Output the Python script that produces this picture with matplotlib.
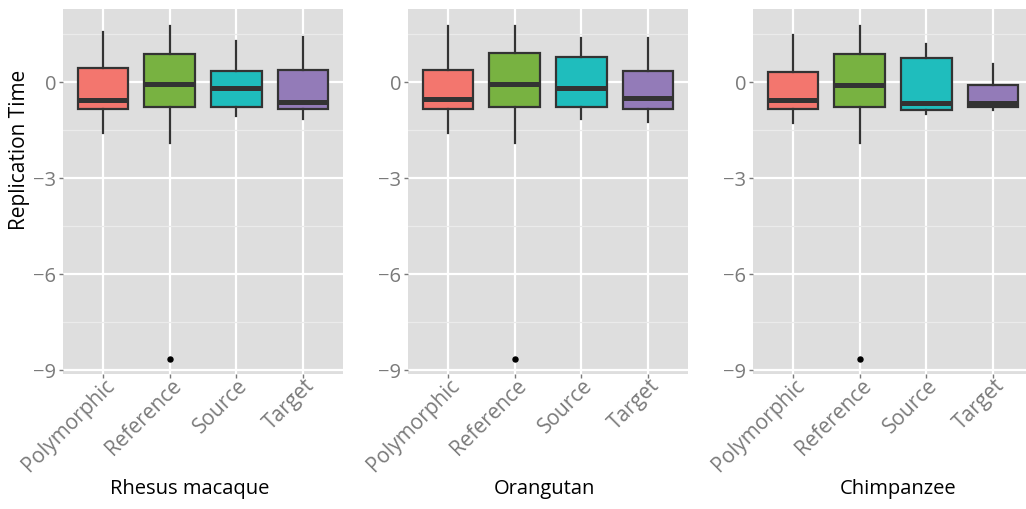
import matplotlib
matplotlib.use("Agg")
import matplotlib.pyplot as plt
from matplotlib.ticker import MultipleLocator
from matplotlib.transforms import ScaledTranslation

plt.rcParams['font.family'] = ['Open Sans', 'DejaVu Sans']

categories = ["Polymorphic", "Reference", "Source", "Target"]
species = ["Rhesus macaque", "Orangutan", "Chimpanzee"]
box_colors = ["#F3766E", "#78B241", "#1FBDBD", "#937BB8"]

# five-number summaries per species, one entry per category
rhesus_whislo = [-1.59, -1.91, -1.05, -1.14]
rhesus_q1     = [-0.84, -0.76, -0.76, -0.84]
rhesus_med    = [-0.55, -0.06, -0.18, -0.61]
rhesus_q3     = [0.44, 0.88, 0.34, 0.38]
rhesus_whishi = [1.56, 1.76, 1.29, 1.42]
rhesus_fliers = [[], [-8.66], [], []]

orang_whislo = [-1.57, -1.91, -1.16, -1.23]
orang_q1     = [-0.84, -0.76, -0.78, -0.84]
orang_med    = [-0.53, -0.06, -0.17, -0.48]
orang_q3     = [0.38, 0.91, 0.79, 0.34]
orang_whishi = [1.77, 1.77, 1.39, 1.37]
orang_fliers = [[], [-8.66], [], []]

chimp_whislo = [-1.27, -1.91, -0.99, -0.88]
chimp_q1     = [-0.85, -0.77, -0.87, -0.76]
chimp_med    = [-0.56, -0.08, -0.64, -0.66]
chimp_q3     = [0.31, 0.88, 0.77, -0.09]
chimp_whishi = [1.49, 1.76, 1.19, 0.57]
chimp_fliers = [[], [-8.66], [], []]

panels = [
    (rhesus_whislo, rhesus_q1, rhesus_med, rhesus_q3, rhesus_whishi, rhesus_fliers),
    (orang_whislo, orang_q1, orang_med, orang_q3, orang_whishi, orang_fliers),
    (chimp_whislo, chimp_q1, chimp_med, chimp_q3, chimp_whishi, chimp_fliers),
]

W, H = 1026, 509
fig = plt.figure(figsize=(W / 100, H / 100), dpi=100)

panel_left_px = [63, 408, 753]
panel_w_px = 280
title_cx_px = [190, 544.5, 898]
top_px, bottom_px = 9, 374.3

tick_grey = "#7A7A7A"
edge = "#333333"

for i, (lo, q1, med, q3, hi, fl) in enumerate(panels):
    ax = fig.add_axes([panel_left_px[i] / W, (H - bottom_px) / H,
                       panel_w_px / W, (bottom_px - top_px) / H])
    ax.set_facecolor("#DEDEDE")
    for s in ax.spines.values():
        s.set_visible(False)

    stats = []
    for j, name in enumerate(categories):
        stats.append(dict(whislo=lo[j], q1=q1[j], med=med[j], q3=q3[j],
                          whishi=hi[j], fliers=fl[j], label=name))
    pos = list(range(1, len(categories) + 1))
    bp = ax.bxp(stats, positions=pos, widths=0.76, patch_artist=True,
                showcaps=False,
                boxprops=dict(edgecolor=edge, linewidth=1.6),
                whiskerprops=dict(color=edge, linewidth=1.6),
                medianprops=dict(color=edge, linewidth=3.6, solid_capstyle='butt'),
                flierprops=dict(marker='o', markersize=3.6, markerfacecolor='black',
                                markeredgecolor='black'),
                zorder=3)
    for patch, c in zip(bp['boxes'], box_colors):
        patch.set_facecolor(c)

    ax.set_xlim(0.4, 4.6)
    ax.set_ylim(-9.125, 2.29)
    ax.yaxis.set_minor_locator(MultipleLocator(1.5))
    ax.set_yticks([-9, -6, -3, 0])
    ax.set_yticklabels(["\u22129", "\u22126", "\u22123", "0"])
    ax.grid(which='major', color='white', linewidth=1.6, zorder=0)
    ax.grid(which='minor', axis='y', color='#EBEBEB', linewidth=0.9, zorder=0)
    ax.set_axisbelow(True)
    ax.tick_params(which='minor', length=0)
    ax.tick_params(which='major', length=3, width=1, color=tick_grey,
                   labelcolor=tick_grey, labelsize=14.5, pad=2)
    ax.set_xticks(pos)
    ax.set_xticklabels(categories, rotation=45, ha='right', va='top',
                       rotation_mode='anchor')
    shift = ScaledTranslation(1 / 100, 6 / 100, fig.dpi_scale_trans)
    for lab in ax.get_xticklabels():
        lab.set_fontsize(15)
        lab.set_transform(lab.get_transform() + shift)

    fig.text(title_cx_px[i] / W, 20 / H, species[i], ha='center', va='center',
             fontsize=14.5, color='black')

fig.text(20 / W, (H - 150) / H, "Replication Time", rotation=90,
         ha='center', va='center', fontsize=15, color='black')

fig.savefig("out.png", dpi=100)
